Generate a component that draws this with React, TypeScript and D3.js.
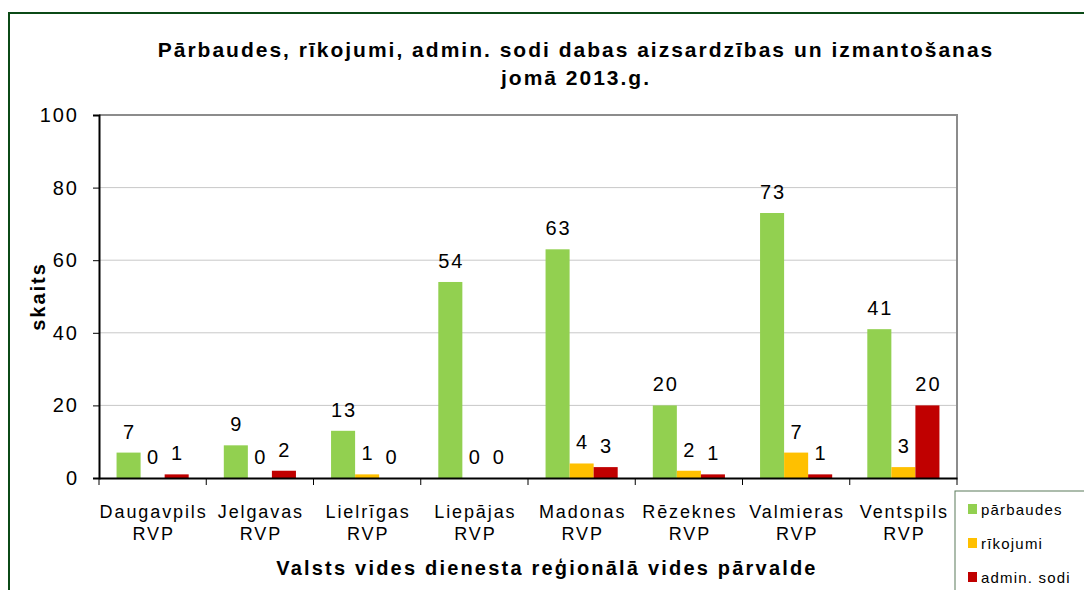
import React, { useRef, useEffect } from "react";
import * as d3 from "d3";

const categories = ["Daugavpils", "Jelgavas", "Lielrīgas", "Liepājas", "Madonas", "Rēzeknes", "Valmieras", "Ventspils"];
const seriesNames = ["pārbaudes", "rīkojumi", "admin. sodi"];
const parbaudes = [7, 9, 13, 54, 63, 20, 73, 41];
const rikojumi = [0, 0, 1, 0, 4, 2, 7, 3];
const adminSodi = [1, 2, 0, 0, 3, 1, 1, 20];
const yTicks = [0, 20, 40, 60, 80, 100];
const colors = ["#92d050", "#ffc000", "#c00000"];

const App = () => {
  const svgRef = useRef<SVGSVGElement>(null);

  useEffect(() => {
    const svg = d3.select(svgRef.current);
    svg.selectAll("*").remove();
    const width = 1084;
    const height = 590;
    const margin = { top: 115, right: 127, bottom: 112, left: 99 };
    const font = "'Liberation Sans', Arial, sans-serif";

    svg.attr("width", width).attr("height", height).style("font-family", font);

    // outer chart border
    svg
      .append("rect")
      .attr("x", 9)
      .attr("y", 13)
      .attr("width", 1200)
      .attr("height", 700)
      .attr("fill", "#fff")
      .attr("stroke", "#0b4a16")
      .attr("stroke-width", 2);

    const x = d3
      .scaleBand()
      .domain(categories)
      .range([margin.left, width - margin.right]);

    const inner = d3
      .scaleBand()
      .domain(seriesNames)
      .range([0, x.bandwidth()])
      .paddingOuter(0.73);

    const y = d3
      .scaleLinear()
      .domain([0, 100])
      .range([height - margin.bottom, margin.top]);

    // grid
    svg
      .append("g")
      .selectAll("line")
      .data(yTicks.slice(1, -1))
      .enter()
      .append("line")
      .attr("x1", margin.left)
      .attr("x2", width - margin.right)
      .attr("y1", (d) => y(d))
      .attr("y2", (d) => y(d))
      .attr("stroke", "#c8c8c8")
      .attr("stroke-width", 1);

    // plot area border top/right
    svg
      .append("path")
      .attr("d", `M${margin.left},${y(100)}H${width - margin.right}V${y(0)}`)
      .attr("fill", "none")
      .attr("stroke", "#8c8c8c")
      .attr("stroke-width", 2);

    const rows = categories.map((c, i) => ({ c, vals: [parbaudes[i], rikojumi[i], adminSodi[i]] }));

    const groups = svg
      .append("g")
      .selectAll("g")
      .data(rows)
      .enter()
      .append("g")
      .attr("transform", (d) => `translate(${x(d.c)},0)`);

    groups
      .selectAll("rect")
      .data((d) => d.vals.map((v, k) => ({ v, k })))
      .enter()
      .append("rect")
      .attr("x", (d) => inner(seriesNames[d.k]))
      .attr("y", (d) => y(d.v))
      .attr("width", inner.bandwidth())
      .attr("height", (d) => y(0) - y(d.v))
      .attr("fill", (d) => colors[d.k]);

    groups
      .selectAll("text")
      .data((d) => d.vals.map((v, k) => ({ v, k })))
      .enter()
      .append("text")
      .attr("x", (d) => inner(seriesNames[d.k]) + inner.bandwidth() / 2 + 1)
      .attr("y", (d) => y(d.v) - 14)
      .attr("text-anchor", "middle")
      .style("font-size", "20px")
      .style("letter-spacing", "2px")
      .style("fill", "#000")
      .text((d) => d.v);

    // y axis
    const yAxis = svg
      .append("g")
      .attr("transform", `translate(${margin.left},0)`)
      .call(d3.axisLeft(y).tickValues(yTicks).tickSize(6).tickPadding(14));
    yAxis.select(".domain").attr("stroke", "#000").attr("stroke-width", 2);
    yAxis.selectAll("line").attr("stroke", "#000");
    yAxis
      .selectAll("text")
      .style("font-size", "20px")
      .style("letter-spacing", "2px")
      .style("font-family", font)
      .style("fill", "#000");

    // x axis
    const xAxis = svg
      .append("g")
      .attr("transform", `translate(0,${y(0)})`)
      .call(d3.axisBottom(x).tickSize(0).tickFormat(() => ""));
    xAxis.select(".domain").attr("stroke", "#000").attr("stroke-width", 2);
    xAxis
      .selectAll(".sep")
      .data(d3.range(categories.length + 1))
      .enter()
      .append("line")
      .attr("x1", (i) => margin.left + i * x.step())
      .attr("x2", (i) => margin.left + i * x.step())
      .attr("y1", 0)
      .attr("y2", 7)
      .attr("stroke", "#000");

    const labels = svg.append("g");
    categories.forEach((c) => {
      const cx = x(c) + x.bandwidth() / 2 + 1;
      labels
        .append("text")
        .attr("x", cx)
        .attr("y", 518)
        .attr("text-anchor", "middle")
        .style("font-size", "18px")
        .style("letter-spacing", "1.9px")
        .text(c);
      labels
        .append("text")
        .attr("x", cx)
        .attr("y", 540)
        .attr("text-anchor", "middle")
        .style("font-size", "18px")
        .style("letter-spacing", "1.9px")
        .text("RVP");
    });

    // titles
    svg
      .append("text")
      .attr("x", 576)
      .attr("y", 57)
      .attr("text-anchor", "middle")
      .style("font-size", "21px")
      .style("font-weight", "bold")
      .style("letter-spacing", "2px")
      .text("Pārbaudes, rīkojumi, admin. sodi dabas aizsardzības un izmantošanas");
    svg
      .append("text")
      .attr("x", 576)
      .attr("y", 85)
      .attr("text-anchor", "middle")
      .style("font-size", "21px")
      .style("font-weight", "bold")
      .style("letter-spacing", "2px")
      .text("jomā 2013.g.");

    svg
      .append("text")
      .attr("transform", `translate(45,${(y(0) + y(100)) / 2}) rotate(-90)`)
      .attr("text-anchor", "middle")
      .style("font-size", "20px")
      .style("font-weight", "bold")
      .style("letter-spacing", "2px")
      .text("skaits");

    svg
      .append("text")
      .attr("x", 547)
      .attr("y", 575)
      .attr("text-anchor", "middle")
      .style("font-size", "20px")
      .style("font-weight", "bold")
      .style("letter-spacing", "2.2px")
      .text("Valsts vides dienesta reģionālā vides pārvalde");

    // legend
    const legend = svg.append("g").attr("transform", "translate(955,491)");
    legend
      .append("rect")
      .attr("width", 200)
      .attr("height", 200)
      .attr("fill", "#fff")
      .attr("stroke", "#5a7a5a")
      .attr("stroke-width", 1);
    seriesNames.forEach((s, i) => {
      legend
        .append("rect")
        .attr("x", 13)
        .attr("y", 13 + i * 34)
        .attr("width", 9)
        .attr("height", 10)
        .attr("fill", colors[i]);
      legend
        .append("text")
        .attr("x", 26)
        .attr("y", 24 + i * 34)
        .style("font-size", "15px")
        .style("letter-spacing", "1.2px")
        .text(s);
    });
  }, []);

  return (
    <div style={{ position: "fixed", left: 0, top: 0 }}>
      <svg ref={svgRef} style={{ display: "block" }}></svg>
    </div>
  );
};

export default App;
